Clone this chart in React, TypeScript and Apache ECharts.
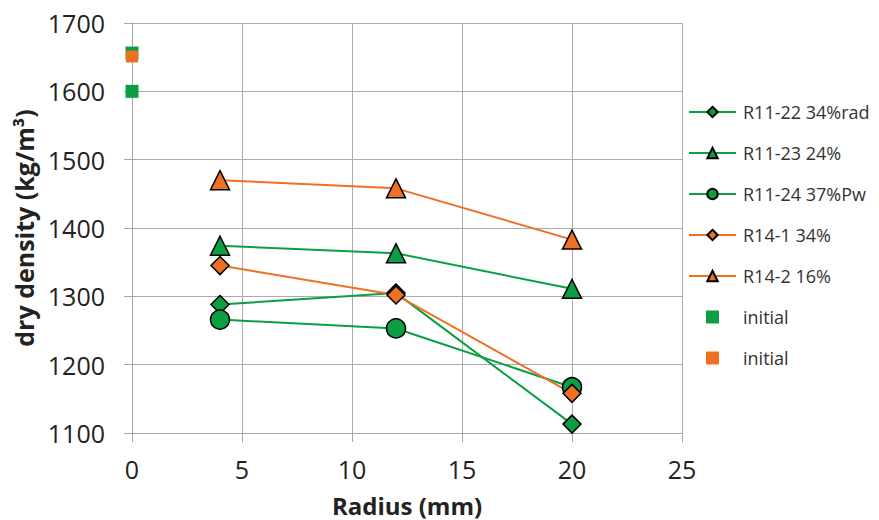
import React, { useEffect, useRef } from 'react';
import * as echarts from 'echarts';

const radius = [4, 12, 20];
const seriesNames = ['R11-22 34%rad', 'R11-23 24%', 'R11-24 37%Pw', 'R14-1 34%', 'R14-2 16%'];
const r11_22 = [1288, 1305, 1113];
const r11_23 = [1374, 1363, 1311];
const r11_24 = [1266, 1253, 1167];
const r14_1 = [1345, 1302, 1158];
const r14_2 = [1470, 1458, 1383];
const initialRadius = [0];
const initialGreen = [1600, 1656];
const initialOrange = [1651];
const xTicks = { min: 0, max: 25, interval: 5 };
const yTicks = { min: 1100, max: 1700, interval: 100 };

const GREEN = '#0B9E42';
const ORANGE = '#EE7022';
const FONT = '"Open Sans", "Noto Sans", sans-serif';
const SQUARE = 'path://M0,0L10,0L10,10L0,10Z';

export default function App() {
  const ref = useRef<HTMLDivElement>(null);
  useEffect(() => {
    if (!ref.current) return;
    const chart = echarts.init(ref.current, undefined, { renderer: 'svg' });
    const lineSeries = (name: string, vals: number[], color: string, symbol: string, size: number) => ({
      name,
      type: 'line',
      data: radius.map((x, i) => [x, vals[i]]),
      symbol,
      symbolSize: size,
      showSymbol: true,
      lineStyle: { color, width: 2 },
      itemStyle: { color, borderColor: '#000', borderWidth: 1.5 },
      emphasis: { disabled: true },
    });
    chart.setOption({
      animation: false,
      backgroundColor: '#fff',
      textStyle: { fontFamily: FONT },
      grid: { left: 132, right: 197, top: 23, bottom: 87, containLabel: false, outerBoundsMode: 'none' },
      legend: {
        orient: 'vertical',
        left: 688,
        top: 103,
        padding: 0,
        itemWidth: 47,
        itemHeight: 13,
        itemGap: 23,
        formatter: (n: string) => (n.startsWith('initial') ? 'initial' : n),
        textStyle: { fontSize: 18, color: '#333', fontFamily: FONT, padding: [0, 0, 0, 2] },
        data: [
          ...seriesNames,
          { name: 'initial_g', icon: SQUARE },
          { name: 'initial_o', icon: SQUARE },
        ],
      },
      xAxis: {
        type: 'value',
        ...xTicks,
        name: 'Radius (mm)',
        nameLocation: 'middle',
        nameGap: 60,
        nameTextStyle: { fontSize: 24, fontWeight: 'bold', color: '#222', fontFamily: FONT },
        axisLine: { show: true, onZero: false, lineStyle: { color: '#a6a6a6', width: 1 } },
        axisTick: { show: true, inside: false, length: 9, lineStyle: { color: '#a6a6a6' } },
        axisLabel: { fontSize: 25, color: '#222', margin: 23, fontFamily: FONT },
        splitLine: { show: true, lineStyle: { color: '#ababab', width: 1 } },
      },
      yAxis: {
        type: 'value',
        ...yTicks,
        name: 'dry density (kg/m³)',
        nameLocation: 'middle',
        nameGap: 88,
        nameTextStyle: { fontSize: 25, fontWeight: 'bold', color: '#222', fontFamily: FONT },
        axisLine: { show: true, onZero: false, lineStyle: { color: '#a6a6a6', width: 1 } },
        axisTick: { show: true, inside: false, length: 8, lineStyle: { color: '#a6a6a6' } },
        axisLabel: { fontSize: 25, color: '#222', margin: 27, fontFamily: FONT, formatter: (v: number) => String(v) },
        splitLine: { show: true, lineStyle: { color: '#ababab', width: 1 } },
      },
      series: [
        lineSeries(seriesNames[0], r11_22, GREEN, 'diamond', 18),
        lineSeries(seriesNames[1], r11_23, GREEN, 'triangle', 19),
        lineSeries(seriesNames[2], r11_24, GREEN, 'circle', 19),
        lineSeries(seriesNames[3], r14_1, ORANGE, 'diamond', 18),
        lineSeries(seriesNames[4], r14_2, ORANGE, 'triangle', 19),
        {
          name: 'initial_g',
          type: 'scatter',
          data: initialGreen.map((v) => [initialRadius[0], v]),
          symbol: 'rect',
          symbolSize: 13,
          itemStyle: { color: GREEN, opacity: 1 },
          emphasis: { disabled: true },
        },
        {
          name: 'initial_o',
          type: 'scatter',
          data: initialOrange.map((v) => [initialRadius[0], v]),
          symbol: 'rect',
          symbolSize: 12,
          itemStyle: { color: ORANGE, opacity: 1 },
          emphasis: { disabled: true },
        },
      ],
    });
    return () => chart.dispose();
  }, []);
  return (
    <div
      ref={ref}
      style={{ position: 'absolute', left: 0, top: 0, width: 879, height: 520, background: '#fff' }}
    />
  );
}
